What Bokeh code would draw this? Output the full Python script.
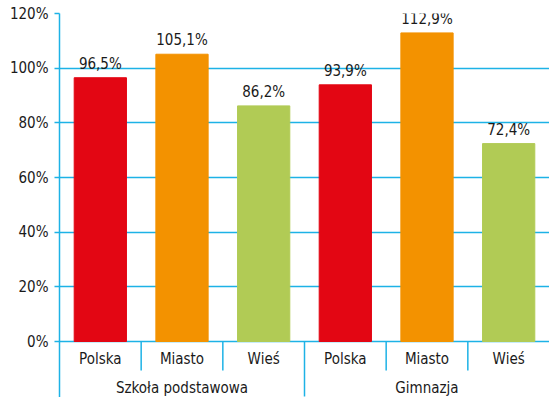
import math
from bokeh.plotting import figure
from bokeh.models import ColumnDataSource, FactorRange, Range1d, FixedTicker, PrintfTickFormatter
from bokeh.core.properties import value
from bokeh.embed import file_html
from bokeh.resources import INLINE

group_labels = ["Szkoła podstawowa", "Gimnazja"]
areas = ["Polska", "Miasto", "Wieś"]
szkola_values = [96.5, 105.1, 86.2]
gimnazja_values = [93.9, 112.9, 72.4]
area_colors = ["#e30613", "#f39200", "#b1cb55"]
y_ticks = [0, 20, 40, 60, 80, 100, 120]

FONT = "'DejaVu Sans Condensed', 'Liberation Sans Narrow', 'Roboto', sans-serif"
BLUE = "#1db2e6"
TXT = "#1a1a1a"

W, H = 549, 397
TOP, LEFT = 13, 59
frame_h = H - TOP
zero_px = 328  # pixels from 120% to 0%
y_start = -120 * (frame_h - zero_px) / zero_px

x, vals, cols = [], [], []
for g, vs in zip(group_labels, [szkola_values, gimnazja_values]):
    for a, v, c in zip(areas, vs, area_colors):
        x.append((g, a))
        vals.append(v)
        cols.append(c)
labels = [("%.1f" % v).replace(".", ",") + "%" for v in vals]

src = ColumnDataSource(dict(x=x, v=vals, c=cols, lab=labels, name=[a for (_, a) in x]))

p = figure(width=W, height=H, x_range=FactorRange(*x, range_padding=0.0, group_padding=0.0),
           y_range=Range1d(y_start, 120), output_backend="svg", toolbar_location=None,
           x_axis_location=None,
           min_border_left=LEFT, min_border_top=TOP, min_border_right=0, min_border_bottom=0)
p.outline_line_color = None
p.xgrid.visible = False

p.ygrid.grid_line_color = BLUE
p.ygrid.grid_line_width = 1.5
p.ygrid.ticker = FixedTicker(ticks=y_ticks)

p.vbar(x="x", top="v", bottom=0, width=0.64, color="c", source=src)
p.text(x="x", y="v", text="lab", source=src, text_align="center", text_baseline="bottom",
       y_offset=-5, text_font=value(FONT), text_font_size="15px", text_color=TXT)

# category labels
p.text(x="x", y=0, text="name", source=src, text_align="center", text_baseline="middle",
       y_offset=17, text_font=value(FONT), text_font_size="15px", text_color=TXT)
# group labels
gsrc = ColumnDataSource(dict(x=[(g, areas[1]) for g in group_labels], t=group_labels))
p.text(x="x", y=0, text="t", source=gsrc, text_align="center", text_baseline="middle",
       y_offset=46, text_font=value(FONT), text_font_size="15px", text_color=TXT)

# separators between categories (short) and between groups (long)
short_x = [(g, a, -0.5) for g in group_labels for a in areas[1:]]
long_x = [(g, areas[0], -0.5) for g in group_labels[1:]]
p.ray(x=short_x, y=[0] * len(short_x), length=29, length_units="screen", angle=-math.pi / 2,
      line_color=BLUE, line_width=1.5)
p.ray(x=long_x, y=[0] * len(long_x), length=55, length_units="screen", angle=-math.pi / 2,
      line_color=BLUE, line_width=1.5)

p.yaxis.ticker = FixedTicker(ticks=y_ticks)
p.yaxis.formatter = PrintfTickFormatter(format="%d%%")
p.yaxis.axis_line_color = BLUE
p.yaxis.axis_line_width = 1.5
p.yaxis.major_tick_line_color = BLUE
p.yaxis.major_tick_line_width = 1.5
p.yaxis.major_tick_out = 5
p.yaxis.major_tick_in = 0
p.yaxis.minor_tick_line_color = None
p.yaxis.major_label_text_font = FONT
p.yaxis.major_label_text_font_size = "15px"
p.yaxis.major_label_text_color = TXT
p.yaxis.major_label_standoff = 6

open("out.html", "w").write(file_html(p, INLINE))
